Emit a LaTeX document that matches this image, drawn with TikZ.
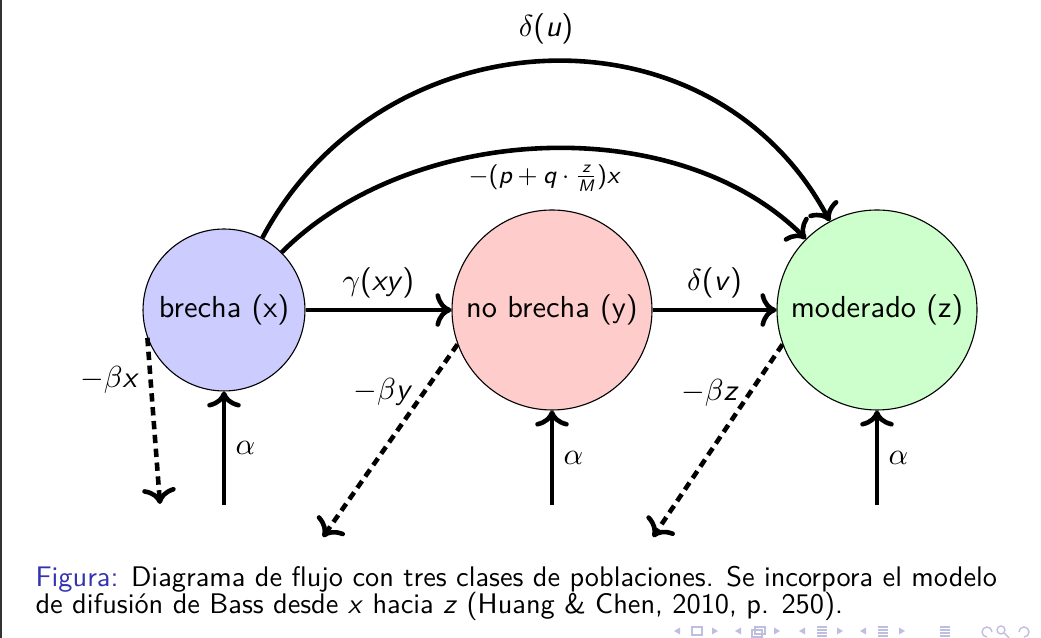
\documentclass[tikz,border=0pt]{standalone}
\usepackage{amsmath}
\usetikzlibrary{arrows.meta}
\definecolor{structure}{RGB}{51,51,178}
\definecolor{navc}{RGB}{190,190,225}
\newcommand{\sv}[1]{\text{\sffamily\itshape #1}}
\newcommand{\lpar}{\mathopen{\text{\sffamily(}}}
\newcommand{\rpar}{\mathclose{\text{\sffamily)}}}
\begin{document}
\begin{tikzpicture}[x=0.36pt,y=0.36pt,
  every node/.style={font=\fontsize{10.95}{13}\selectfont\sffamily},
  state/.style={circle,draw=black,line width=0.4pt,inner sep=0pt},
  flow/.style={-{To[scale=1.1]},line width=1.65pt},
  loss/.style={flow,densely dashed},
  small label/.style={font=\fontsize{9}{11}\selectfont\sffamily},
  captext/.style={anchor=base west,inner sep=0pt,font=\fontsize{10.2}{12}\selectfont\sffamily},
  navsym/.style={navc,line width=0.5pt}]
\useasboundingbox (0,0) rectangle (1041,638);
\draw[black!80,line width=0.7pt] (1,0) -- (1,638);

% states
\node[state,fill=blue!20,minimum size=58.3pt] (x) at (224,328) {brecha (x)};
\node[state,fill=red!20,minimum size=72pt] (y) at (552,328) {no brecha (y)};
\node[state,fill=green!20,minimum size=72pt] (z) at (877,328) {moderado (z)};

% free ends
\coordinate (ax) at (224,133);
\coordinate (ay) at (552,133);
\coordinate (az) at (877,133);
\coordinate (dx) at (160,134);
\coordinate (dy) at (323,101);
\coordinate (dz) at (653,101);

% horizontal flows
\draw[flow] (x) -- node[above]{$\gamma$(\textit{xy})} (y);
\draw[flow] (y) -- node[above]{$\delta$(\textit{v})} (z);

% curved flows
\draw[flow] (x.62) .. controls +(62:254) and +(118:254) .. node[above=2pt]{$\delta$(\textit{u})} (z.118);
\draw[flow] (x.45) .. controls +(45:183) and +(135:183) .. node[below=1.5pt,small label]{$-\lpar\sv{p}+\sv{q}\cdot\frac{\sv{z}}{\sv{M}}\rpar\sv{x}$} (z.135);

% inflows
\draw[flow] (ax) -- node[right]{$\alpha$} (x);
\draw[flow] (ay) -- node[right]{$\alpha$} (y);
\draw[flow] (az) -- node[right]{$\alpha$} (z);

% losses
\draw[loss] (x.200) -- node[left,near start]{$-\beta$\textit{x}} (dx);
\draw[loss] (y.200) -- node[left,near start]{$-\beta$\textit{y}} (dy);
\draw[loss] (z.200) -- node[left,near start]{$-\beta$\textit{z}} (dz);

% caption
\node[captext] (cap1) at (35,51) {\textcolor{structure}{Figura:} Diagrama de flujo con tres clases de poblaciones. Se incorpora el modelo};
\node[captext] (cap2) at (35,24) {de difusión de Bass desde \textit{x} hacia \textit{z} (Huang \& Chen, 2010, p. 250).};

% navigation symbols
\begin{scope}[navsym]
  \foreach \t in {677,738,802,863} {\fill (\t-3,7) -- (\t+3,10.5) -- (\t+3,3.5) -- cycle;}
  \foreach \t in {715,777,840,902} {\fill (\t+3,7) -- (\t-3,10.5) -- (\t-3,3.5) -- cycle;}
  \draw (692,3) rectangle (702,11);
  \draw (752,1) rectangle (762,8);
  \draw (755,4) rectangle (765,11);
  \foreach \t in {822,883,945} {\foreach \h in {2,5,8,11} {\draw (\t-5,\h) -- (\t+5,\h);}}
  \draw (992,6) arc (0:270:5);
  \draw (1001,8) circle (4); \draw (1004,5) -- (1009,0);
  \draw (1019,6) arc (180:-90:5);
\end{scope}
\end{tikzpicture}
\end{document}
